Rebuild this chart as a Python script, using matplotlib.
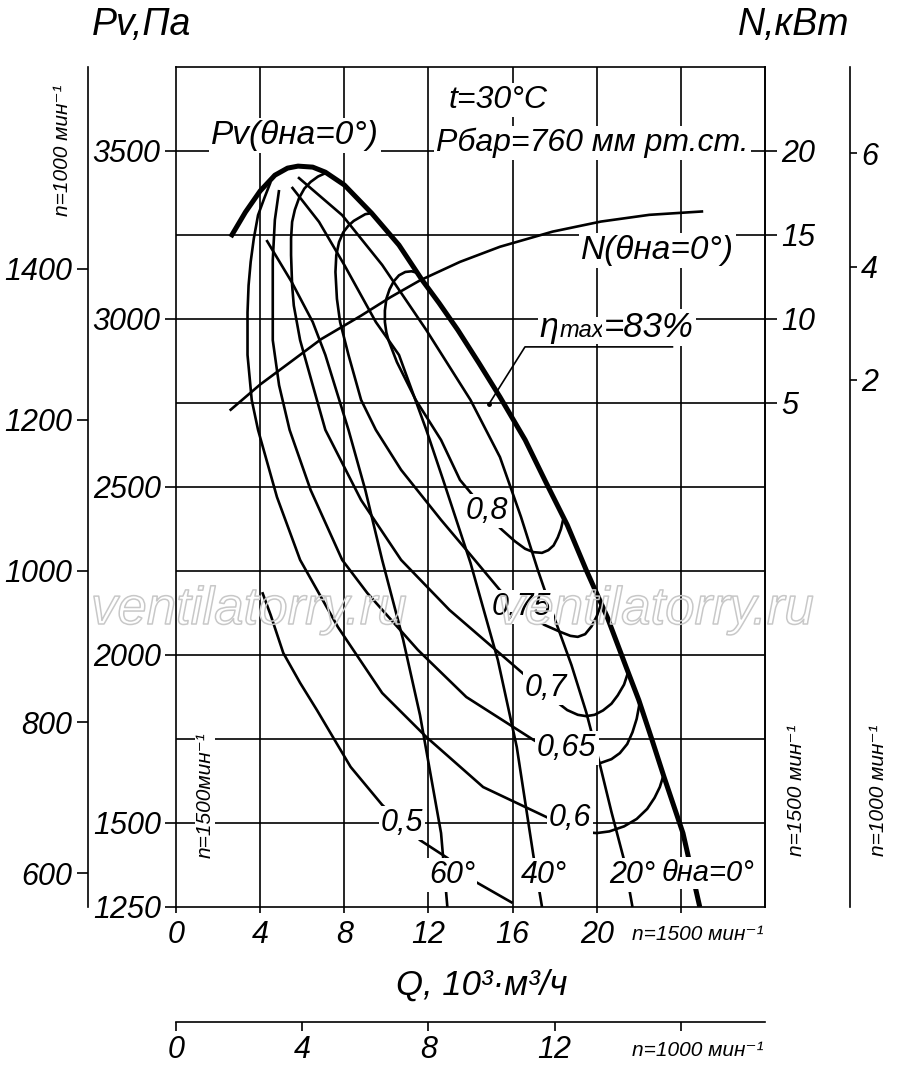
import numpy as np
import matplotlib.pyplot as plt
import matplotlib.patheffects as pe

plt.rcParams['font.family'] = ['Liberation Sans', 'DejaVu Sans']
plt.rcParams['font.style'] = 'italic'

# Pv curves at n=1500 rpm (Q in 10^3 m3/h, Pv in Pa) for guide vane angles
q_0 = [2.6, 3.3, 4.0, 4.7, 5.3, 5.8, 6.5, 7.1, 8.0, 9.3, 10.6, 11.7, 12.5, 13.4,
       14.4, 15.4, 16.6, 17.6, 18.6, 19.5, 20.5, 21.4, 22.0, 22.6, 23.2, 24.1, 24.9]
pv_0 = [3244, 3318, 3381, 3428, 3449, 3455, 3452, 3437, 3399, 3315, 3220, 3116, 3048, 2967,
        2869, 2768, 2640, 2512, 2387, 2253, 2113, 1964, 1866, 1753, 1637, 1470, 1250]
q_20 = [5.8, 7.9, 9.8, 11.9, 14.0, 15.4, 16.4, 17.2, 17.9, 18.8, 19.5, 20.1, 20.7, 21.3, 21.7]
pv_20 = [3422, 3309, 3161, 2967, 2759, 2589, 2411, 2253, 2125, 1970, 1830, 1687, 1533, 1390, 1250]
q_40 = [5.5, 6.8, 8.0, 9.5, 10.6, 11.9, 12.7, 14.0, 15.3, 16.2, 17.0, 17.4]
pv_40 = [3393, 3289, 3161, 2991, 2893, 2670, 2521, 2274, 1985, 1726, 1399, 1250]
q_60 = [4.3, 5.5, 6.5, 7.1, 8.2, 9.0, 9.8, 10.8, 11.6, 12.6, 12.9]
pv_60 = [3235, 3110, 2991, 2893, 2670, 2491, 2283, 2045, 1821, 1470, 1250]

# power at 0 deg, kW
q_n = [2.6, 4.0, 5.4, 6.9, 8.8, 10.2, 11.6, 13.5, 15.4, 17.9, 20.2, 22.5, 25.0]
n_0 = [4.6, 6.1, 7.4, 8.8, 10.2, 11.3, 12.3, 13.4, 14.3, 15.2, 15.8, 16.2, 16.4]

# efficiency contours
q_e80 = [11.5, 11.2, 10.9, 10.6, 10.35, 10.15, 10.0, 9.93, 9.93, 10.0, 10.1, 10.5, 11.4, 12.6,
         13.5, 14.7, 15.4, 16.1, 16.6, 17.0, 17.4, 17.7, 17.95, 18.15, 18.3, 18.4]
pv_e80 = [3137, 3142, 3140, 3130, 3112, 3088, 3060, 3025, 2991, 2960, 2937, 2872, 2759, 2640,
          2521, 2431, 2378, 2339, 2316, 2306, 2304, 2312, 2326, 2350, 2375, 2402]
q_e75 = [9.3, 9.0, 8.75, 8.45, 8.2, 7.95, 7.75, 7.62, 7.58, 7.65, 7.8, 8.2, 8.8, 9.5, 10.7,
         12.6, 14.0, 15.4, 16.1, 16.8, 17.5, 18.3, 18.75, 19.1, 19.45, 19.75, 20.0, 20.2]
pv_e75 = [3315, 3312, 3303, 3292, 3278, 3258, 3229, 3190, 3140, 3060, 2991, 2893, 2759, 2670, 2551,
          2402, 2298, 2193, 2152, 2119, 2090, 2068, 2057, 2054, 2062, 2085, 2115, 2150]
q_e70 = [7.1, 6.75, 6.4, 6.1, 5.85, 5.65, 5.52, 5.47, 5.47, 5.52, 5.6, 5.9, 6.5, 7.1, 8.8, 10.7,
         13.0, 16.7, 17.9, 18.6, 19.1, 19.5, 19.9, 20.3, 20.7, 21.0, 21.3, 21.5]
pv_e70 = [3434, 3424, 3408, 3388, 3360, 3325, 3289, 3240, 3190, 3100, 3040, 2937, 2803, 2670, 2461, 2283,
          2134, 1934, 1870, 1836, 1822, 1818, 1822, 1835, 1855, 1880, 1912, 1950]
q_e65 = [4.9, 4.7, 4.6, 4.6, 4.6, 4.9, 5.4, 6.4, 7.9, 9.1, 11.5, 13.8, 17.0, 18.2, 19.1, 19.7,
         20.2, 20.7, 21.1, 21.45, 21.7, 21.9, 22.05]
pv_e65 = [3384, 3295, 3175, 3056, 2937, 2803, 2670, 2491, 2283, 2184, 2015, 1875, 1747, 1705, 1684, 1677,
          1679, 1690, 1708, 1735, 1770, 1810, 1860]
q_e60 = [4.5, 4.2, 3.9, 3.7, 3.55, 3.45, 3.4, 3.4, 3.6, 3.9, 4.8, 5.9, 7.7, 9.8, 11.9, 14.6,
         17.6, 18.4, 19.1, 19.6, 20.0, 20.6, 21.3, 21.9, 22.4, 22.75, 23.0, 23.15]
pv_e60 = [3408, 3360, 3309, 3240, 3170, 3100, 3020, 2893, 2759, 2670, 2470, 2283, 2083, 1887, 1756, 1607,
          1518, 1495, 1479, 1472, 1470, 1475, 1490, 1512, 1542, 1575, 1607, 1637]
q_e50 = [4.1, 4.5, 5.1, 5.9, 6.7, 8.3, 9.8, 11.6, 12.9, 14.1, 16.0]
pv_e50 = [2187, 2119, 2006, 1917, 1836, 1667, 1554, 1449, 1396, 1330, 1262]

# axes scales
q_ticks = [0, 4, 8, 12, 16, 20, 24]
q_ticklabels = ['0', '4', '8', '12', '16', '20', '']
q1000_ticks = [0, 4, 8, 12, 16]
q1000_ticklabels = ['0', '4', '8', '12', '']
pv_ticks = [1250, 1500, 2000, 2500, 3000, 3500]
pv_grid = [1500, 1750, 2000, 2250, 2500, 2750, 3000, 3250, 3500]
pv1000_ticks = [600, 800, 1000, 1200, 1400]
n_ticks = [5, 10, 15, 20]
n1000_ticks = [2, 4, 6]

fig = plt.figure(figsize=(9, 10.67), dpi=100)
ax = fig.add_axes([176 / 900, 1 - 907 / 1067, 589 / 900, 840 / 1067])
ax.set_xlim(0, 28)
ax.set_ylim(1250, 3750)

for q in q_ticks[1:]:
    ax.axvline(q, color='black', lw=1.2, zorder=1)
for p in pv_grid:
    ax.axhline(p, color='black', lw=1.2, zorder=1)

thin = dict(color='black', lw=1.9, zorder=3, solid_capstyle='butt', solid_joinstyle='round')
for qq, pp in [(q_20, pv_20), (q_40, pv_40), (q_60, pv_60),
               (q_e80, pv_e80), (q_e75, pv_e75), (q_e70, pv_e70),
               (q_e65, pv_e65), (q_e60, pv_e60), (q_e50, pv_e50)]:
    ax.plot(qq, pp, **thin)
ax.plot(q_0, pv_0, color='black', lw=3.6, zorder=4, solid_capstyle='butt', solid_joinstyle='round')

# eta max leader
ax.plot([14.88, 16.59, 23.6], [2747, 2917, 2917], color='black', lw=1.2, zorder=3)
ax.plot([14.88], [2747], 'o', color='black', ms=2.5, zorder=3)

for s in ax.spines.values():
    s.set_linewidth(1.2)
ax.set_xticks(q_ticks)
ax.set_xticklabels(q_ticklabels)
ax.set_yticks(pv_ticks)
ax.set_yticklabels([str(v) for v in pv_ticks])
ax.tick_params(axis='x', direction='out', length=4.5, width=1.2, pad=5, labelsize=22)
ax.tick_params(axis='y', direction='out', length=8, width=1.2, pad=3, labelsize=22)

wb = dict(facecolor='white', edgecolor='none', pad=1.5)


def label(x, y, s, size=22, **kw):
    ax.text(x, y, s, fontsize=size, ha='center', va='center', zorder=6, bbox=wb, **kw)


label(14.78, 2428, '0,8')
label(16.44, 2143, '0,75')
label(17.59, 1902, '0,7')
label(18.58, 1723, '0,65')
label(18.73, 1515, '0,6')
label(10.74, 1500, '0,5')
label(13.12, 1345, '60°')
label(17.49, 1345, '40°')
label(21.67, 1345, '20°')
label(25.3, 1352, 'θна=0°', size=21)
label(5.66, 3545, 'Pv(θна=0°)', size=24)
label(22.91, 3205, 'N(θна=0°)', size=24)
ax.text(12.98, 3652, 't=30°C', fontsize=23, ha='left', va='center', zorder=6, bbox=wb)
ax.text(12.36, 3524, 'Рбар=760 мм рт.ст.', fontsize=23, ha='left', va='center', zorder=6, bbox=wb)
ax.text(1.38, 1583, 'n=1500мин⁻¹', fontsize=15, rotation=90, ha='center', va='center',
        zorder=6, bbox=dict(facecolor='white', edgecolor='none', pad=0.5))

t1 = ax.text(17.3, 2946, 'η', fontsize=25, ha='left', va='baseline', zorder=6, bbox=wb)
t2 = ax.annotate('max', xy=(1, 2946), xycoords=(t1, 'data'), fontsize=17,
                 ha='left', va='baseline', zorder=6, bbox=wb)
ax.annotate('=83%', xy=(1, 2946), xycoords=(t2, 'data'), fontsize=25,
            ha='left', va='baseline', zorder=6, bbox=wb)

# N axis (n=1500)
ax_n = ax.twinx()
ax_n.set_ylim(-25, 25)
ax_n.plot(q_n, n_0, color='black', lw=1.9, solid_joinstyle='round')
for k in ['left', 'top', 'bottom']:
    ax_n.spines[k].set_visible(False)
ax_n.spines['right'].set_linewidth(1.2)
ax_n.set_yticks(n_ticks)
ax_n.tick_params(axis='y', direction='out', length=8.5, width=1.2, pad=3, labelsize=22)

# N axis (n=1000)
ax_n1 = ax.twinx()
ax_n1.set_ylim(-7.3, 7.52)
for k in ['left', 'top', 'bottom']:
    ax_n1.spines[k].set_visible(False)
ax_n1.spines['right'].set_position(('outward', 61.2))
ax_n1.spines['right'].set_linewidth(1.2)
ax_n1.set_yticks(n1000_ticks)
ax_n1.tick_params(axis='y', direction='out', length=5, width=1.2, pad=3, labelsize=22)

# Pv axis (n=1000)
ax_p1 = ax.twinx()
ax_p1.set_ylim(1250 * 4 / 9, 3750 * 4 / 9)
ax_p1.yaxis.set_ticks_position('left')
for k in ['right', 'top', 'bottom']:
    ax_p1.spines[k].set_visible(False)
ax_p1.spines['left'].set_visible(True)
ax_p1.spines['left'].set_position(('outward', 63.4))
ax_p1.spines['left'].set_linewidth(1.2)
ax_p1.set_yticks(pv1000_ticks)
ax_p1.set_yticklabels([str(v) for v in pv1000_ticks])
ax_p1.tick_params(axis='y', direction='out', length=8, width=1.2, pad=3, labelsize=22)

# Q axis (n=1000)
ax_q1 = ax.twiny()
ax_q1.set_xlim(0, 28 * 2 / 3)
ax_q1.xaxis.set_ticks_position('bottom')
for k in ['left', 'right', 'top']:
    ax_q1.spines[k].set_visible(False)
ax_q1.spines['bottom'].set_visible(True)
ax_q1.spines['bottom'].set_position(('outward', 82.8))
ax_q1.spines['bottom'].set_linewidth(1.2)
ax_q1.set_xticks(q1000_ticks)
ax_q1.set_xticklabels(q1000_ticklabels)
ax_q1.tick_params(axis='x', direction='out', length=6.5, width=1.2, pad=3, labelsize=22)

fig.text(142 / 900, 1 - 25 / 1067, 'Pv,Па', fontsize=27, ha='center', va='center')
fig.text(794 / 900, 1 - 25 / 1067, 'N,кВт', fontsize=27, ha='center', va='center')
fig.text(482 / 900, 1 - 985 / 1067, 'Q, 10³·м³/ч', fontsize=25, ha='center', va='center')

small = dict(fontsize=15, ha='center', va='center')
fig.text(62 / 900, 1 - 150 / 1067, 'n=1000 мин⁻¹', rotation=90, **small)
fig.text(797 / 900, 1 - 790 / 1067, 'n=1500 мин⁻¹', rotation=90, **small)
fig.text(879 / 900, 1 - 790 / 1067, 'n=1000 мин⁻¹', rotation=90, **small)
fig.text(698 / 900, 1 - 935 / 1067, 'n=1500 мин⁻¹', **small)
fig.text(698 / 900, 1 - 1050 / 1067, 'n=1000 мин⁻¹', **small)

# watermark
for xc in [249, 656]:
    fig.text(xc / 900, 1 - 610 / 1067, 'ventilatorry.ru', fontsize=38, color='none',
             ha='center', va='center', zorder=10,
             path_effects=[pe.withStroke(linewidth=1.1, foreground='#c8c8c8')])

fig.savefig('out.png', dpi=100)
